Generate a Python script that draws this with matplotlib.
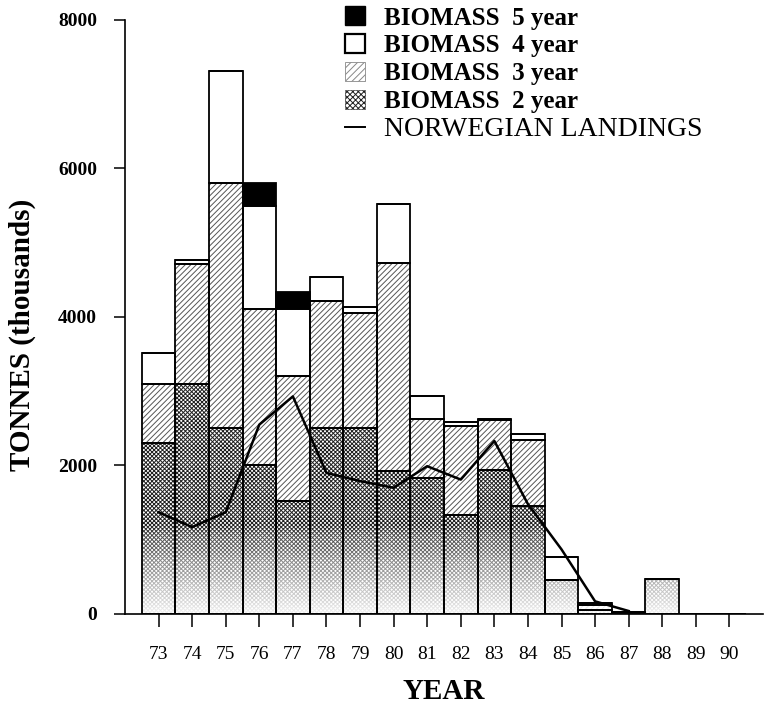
import numpy as np
import matplotlib
matplotlib.use("Agg")
import matplotlib.pyplot as plt
from matplotlib.patches import Patch
from matplotlib.lines import Line2D

# biomass by age group, thousands of tonnes
years = np.arange(73, 91)
year_labels = [str(y) for y in years]
biomass_2yr = [2300, 3100, 2510, 2000, 1520, 2510, 2510, 1930, 1830, 1330, 1940, 1450, 460, 60, 20, 470, 0, 0]
biomass_3yr = [800, 1620, 3300, 2110, 1690, 1710, 1540, 2800, 790, 1200, 670, 890, 0, 60, 10, 0, 0, 0]
biomass_4yr = [410, 50, 1500, 1390, 900, 320, 90, 790, 320, 50, 20, 80, 310, 30, 0, 0, 0, 0]
biomass_5yr = [0, 0, 0, 310, 230, 0, 0, 0, 0, 0, 0, 0, 0, 0, 0, 0, 0, 0]
landings = [1370, 1170, 1370, 2550, 2930, 1900, 1790, 1700, 1990, 1810, 2330, 1480, 870, 170, 40,
            np.nan, np.nan, np.nan]

plt.rcParams['font.family'] = ['Liberation Serif', 'DejaVu Serif']
plt.rcParams['hatch.linewidth'] = 0.7

fig = plt.figure(figsize=(7.71, 7.08), dpi=100)
ax = fig.add_axes([0.1621, 0.1328, 0.8275, 0.839])

layers = [
    (biomass_2yr, dict(color='white', hatch='x' * 8, edgecolor='#202020')),
    (biomass_3yr, dict(color='white', hatch='/' * 6, edgecolor='#555555')),
    (biomass_4yr, dict(color='white', edgecolor='white')),
    (biomass_5yr, dict(color='black', edgecolor='black')),
]

# fills first
bottom = np.zeros(len(years))
for vals, style in layers:
    ax.bar(years, vals, width=1.0, bottom=bottom, linewidth=0, zorder=1, **style)
    bottom = bottom + np.array(vals)

# the printed cross-hatch fades out towards the base of the bars
fade = np.ones((256, 1, 4))
fade[:, 0, 3] = np.linspace(0.93, 0.0, 256) ** 0.8
ax.imshow(fade, extent=(72, 91, 0, 1200), origin='lower', aspect='auto', zorder=1.5)

# outlines on top
bottom = np.zeros(len(years))
for vals, _ in layers:
    ax.bar(years, vals, width=1.0, bottom=bottom, fill=False, edgecolor='black',
           linewidth=1.3, zorder=2)
    bottom = bottom + np.array(vals)

ax.plot(years, landings, color='black', linewidth=1.8, zorder=4)

ax.set_xlim(72, 91)
ax.set_ylim(0, 8000)
ax.spines['top'].set_visible(False)
ax.spines['right'].set_visible(False)
ax.spines['left'].set_linewidth(1.2)
ax.spines['bottom'].set_linewidth(1.2)

ax.set_xticks(years)
ax.set_xticklabels(year_labels, fontsize=14)
ax.set_yticks([0, 2000, 4000, 6000, 8000])
ax.set_yticklabels(['0', '2000', '4000', '6000', '8000'], fontsize=14, fontweight='bold')
ax.tick_params(axis='x', length=9, width=1.1, pad=14)
ax.tick_params(axis='y', length=8, width=1.1, pad=12)

ax.set_xlabel('YEAR', fontsize=21, fontweight='bold')
ax.set_ylabel('TONNES (thousands)', fontsize=21, fontweight='bold')
ax.xaxis.set_label_coords(0.5, -0.108)
ax.yaxis.set_label_coords(-0.14, 0.47)

handles = [
    Patch(facecolor='black', edgecolor='black'),
    Patch(facecolor='white', edgecolor='black', linewidth=1.6),
    Patch(facecolor='white', edgecolor='#888888', hatch='/' * 5, linewidth=0.6),
    Patch(facecolor='white', edgecolor='#202020', hatch='x' * 6, linewidth=0.4),
    Line2D([], [], color='black', linewidth=1.4),
]
labels = ['BIOMASS  5 year', 'BIOMASS  4 year', 'BIOMASS  3 year', 'BIOMASS  2 year',
          'NORWEGIAN LANDINGS']
leg = fig.legend(handles, labels, loc='upper left', bbox_to_anchor=(0.4475, 0.991),
                 frameon=False, fontsize=18, handlelength=0.8, handleheight=0.8,
                 handletextpad=0.75, labelspacing=0.18, borderpad=0, borderaxespad=0)
texts = leg.get_texts()
for t in texts[:4]:
    t.set_fontweight('bold')
texts[4].set_fontsize(20)

fig.savefig('out.png', dpi=100)
